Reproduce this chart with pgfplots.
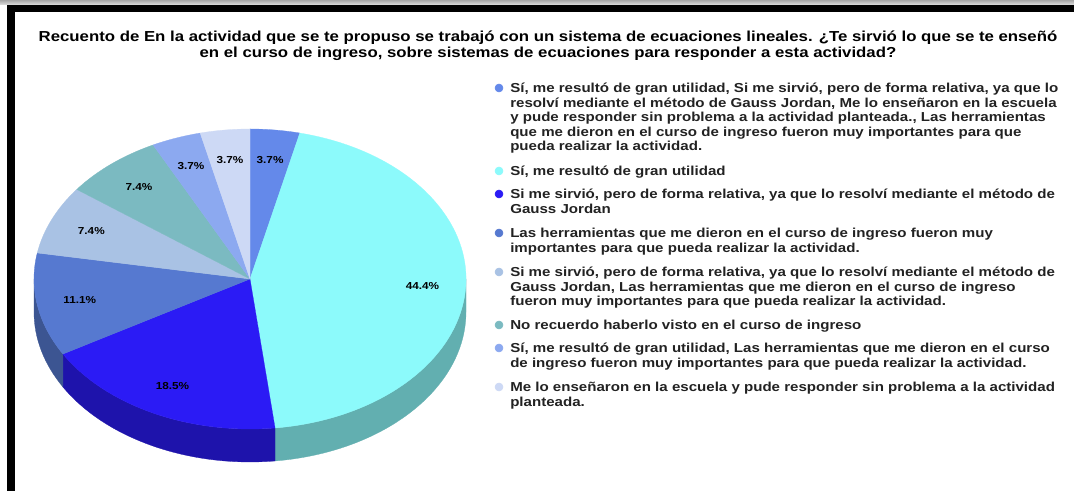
\documentclass[border=0pt]{standalone}
\usepackage{pgfplots}
\pgfplotsset{compat=1.18}
\usepackage{pgfplotstable}
\usepackage{graphicx}
\usepackage{fontspec}
\setmainfont{Liberation Sans}

\definecolor{c0}{HTML}{6489EA}
\definecolor{c1}{HTML}{8CFAFB}
\definecolor{c2}{HTML}{2B1BF5}
\definecolor{c3}{HTML}{5679D0}
\definecolor{c4}{HTML}{A9C2E4}
\definecolor{c5}{HTML}{7BBAC1}
\definecolor{c6}{HTML}{8CA9F0}
\definecolor{c7}{HTML}{CDD9F5}
\definecolor{legtxt}{HTML}{222222}

% responses (count of answers), in the order of the legend
\pgfplotstableread{
resp value
1 1
2 12
3 5
4 3
5 2
6 2
7 1
8 1
}\piedata

% geometry (pixel units of the picture; 1 px = 0.75 pt)
\def\cx{250}\def\cy{279}\def\rx{216}\def\ry{150}
\def\rxpt{162pt}\def\rypt{112.5pt}\def\deppt{24.75pt}

\pgfplotstablegetrowsof{\piedata}%
\pgfmathtruncatemacro\nrows{\pgfplotsretval-1}%
\xdef\total{0}%
\foreach \i in {0,...,\nrows}{%
  \pgfplotstablegetelem{\i}{value}\of\piedata
  \pgfmathsetmacro\tmp{\total+\pgfplotsretval}%
  \xdef\total{\tmp}%
}%
\xdef\cum{0}%
\gdef\pieSides{}\gdef\pieTops{}\gdef\pieLabels{}%
\foreach \i in {0,...,\nrows}{%
  \pgfplotstablegetelem{\i}{value}\of\piedata
  \let\val\pgfplotsretval
  \pgfmathsetmacro\angA{\cum*360/\total}%
  \pgfmathsetmacro\angB{(\cum+\val)*360/\total}%
  \pgfmathsetmacro\xa{\cx+\rx*sin(\angA)}%
  \pgfmathsetmacro\ya{\cy-\ry*cos(\angA)}%
  \pgfmathsetmacro\sa{90-\angA}%
  \pgfmathsetmacro\sb{90-\angB}%
  \xdef\pieTops{\unexpanded\expandafter{\pieTops}\noexpand\path[fill=c\i,draw=c\i,line width=0.2pt] (axis cs:\cx,\cy) -- (axis cs:\xa,\ya) arc[start angle=\sa, end angle=\sb, x radius=\rxpt, y radius=\rypt] -- cycle;}%
  \pgfmathtruncatemacro\vis{(\angA<270)&&(\angB>90)}%
  \ifnum\vis=1
    \pgfmathsetmacro\angP{max(\angA,90)}%
    \pgfmathsetmacro\angQ{min(\angB,270)}%
    \pgfmathsetmacro\xp{\cx+\rx*sin(\angP)}%
    \pgfmathsetmacro\yp{\cy-\ry*cos(\angP)}%
    \pgfmathsetmacro\sP{90-\angP}%
    \pgfmathsetmacro\sQ{90-\angQ}%
    \xdef\pieSides{\unexpanded\expandafter{\pieSides}\noexpand\path[fill=c\i!70!black,draw=c\i!70!black,line width=0.2pt] (axis cs:\xp,\yp) arc[start angle=\sP, end angle=\sQ, x radius=\rxpt, y radius=\rypt] -- ++(0pt,-\deppt) arc[start angle=\sQ, end angle=\sP, x radius=\rxpt, y radius=\rypt] -- cycle;}%
  \fi
  \pgfmathsetmacro\angM{(\angA+\angB)/2}%
  \pgfmathsetmacro\lx{\cx+0.8*\rx*sin(\angM)}%
  \pgfmathsetmacro\ly{\cy-0.8*\ry*cos(\angM)}%
  \pgfmathtruncatemacro\pint{round(\val*1000/\total)}%
  \pgfmathtruncatemacro\ip{\pint/10}%
  \pgfmathtruncatemacro\fp{\pint-10*\ip}%
  \xdef\pieLabels{\unexpanded\expandafter{\pieLabels}\noexpand\node[pielbl] at (axis cs:\lx,\ly) {\noexpand\sx{\ip.\fp\noexpand\%}};}%
  \pgfmathsetmacro\tmp{\cum+\val}%
  \xdef\cum{\tmp}%
}%

\newcommand\sx[1]{\scalebox{1.16}[1]{#1}}
\tikzset{
  pielbl/.style={font=\bfseries\fontsize{7.6pt}{9pt}\selectfont, text=black, inner sep=0pt},
  legtext/.style={anchor=base west, inner sep=0pt, text=legtxt, font=\bfseries\fontsize{9.75pt}{10.9pt}\selectfont},
  ttl/.style={anchor=base, inner sep=0pt, text=black, font=\bfseries\fontsize{10.85pt}{12pt}\selectfont},
}

\begin{document}
\begin{tikzpicture}
\begin{axis}[
  scale only axis, width=805.5pt, height=368.25pt,
  xmin=0, xmax=1074, ymin=0, ymax=491, y dir=reverse,
  hide axis, clip=false]
% background and frame
\fill[white] (axis cs:0,0) rectangle (axis cs:1074,491);
\shade[top color=gray!70, bottom color=gray!25] (axis cs:0,0) rectangle (axis cs:1074,5);
\fill[black] (axis cs:7,5) rectangle (axis cs:1074,12);
\fill[black] (axis cs:7,5) rectangle (axis cs:15,491);
% pie
\pieSides
\pieTops
\pieLabels
% title
\node[ttl] at (axis cs:548,42) {\sx{Recuento de En la actividad que se te propuso se trabajó con un sistema de ecuaciones lineales. ¿Te sirvió lo que se te enseñó}};
\node[ttl] at (axis cs:548,58) {\sx{en el curso de ingreso, sobre sistemas de ecuaciones para responder a esta actividad?}};
% legend
\addplot[only marks, mark=*, mark size=3pt, color=c0] coordinates {(499,88)};
\addplot[only marks, mark=*, mark size=3pt, color=c1] coordinates {(499,171)};
\addplot[only marks, mark=*, mark size=3pt, color=c2] coordinates {(499,194)};
\addplot[only marks, mark=*, mark size=3pt, color=c3] coordinates {(499,233)};
\addplot[only marks, mark=*, mark size=3pt, color=c4] coordinates {(499,272)};
\addplot[only marks, mark=*, mark size=3pt, color=c5] coordinates {(499,325)};
\addplot[only marks, mark=*, mark size=3pt, color=c6] coordinates {(499,348)};
\addplot[only marks, mark=*, mark size=3pt, color=c7] coordinates {(499,387)};
\node[legtext] at (axis cs:510,92.5) {\sx{\begin{tabular}[t]{@{}l@{}}Sí, me resultó de gran utilidad, Si me sirvió, pero de forma relativa, ya que lo\\resolví mediante el método de Gauss Jordan, Me lo enseñaron en la escuela\\y pude responder sin problema a la actividad planteada., Las herramientas\\que me dieron en el curso de ingreso fueron muy importantes para que\\pueda realizar la actividad.\end{tabular}}};
\node[legtext] at (axis cs:510,175.5) {\sx{Sí, me resultó de gran utilidad}};
\node[legtext] at (axis cs:510,198.5) {\sx{\begin{tabular}[t]{@{}l@{}}Si me sirvió, pero de forma relativa, ya que lo resolví mediante el método de\\Gauss Jordan\end{tabular}}};
\node[legtext] at (axis cs:510,237.5) {\sx{\begin{tabular}[t]{@{}l@{}}Las herramientas que me dieron en el curso de ingreso fueron muy\\importantes para que pueda realizar la actividad.\end{tabular}}};
\node[legtext] at (axis cs:510,276.5) {\sx{\begin{tabular}[t]{@{}l@{}}Si me sirvió, pero de forma relativa, ya que lo resolví mediante el método de\\Gauss Jordan, Las herramientas que me dieron en el curso de ingreso\\fueron muy importantes para que pueda realizar la actividad.\end{tabular}}};
\node[legtext] at (axis cs:510,329.5) {\sx{No recuerdo haberlo visto en el curso de ingreso}};
\node[legtext] at (axis cs:510,352.5) {\sx{\begin{tabular}[t]{@{}l@{}}Sí, me resultó de gran utilidad, Las herramientas que me dieron en el curso\\de ingreso fueron muy importantes para que pueda realizar la actividad.\end{tabular}}};
\node[legtext] at (axis cs:510,391.5) {\sx{\begin{tabular}[t]{@{}l@{}}Me lo enseñaron en la escuela y pude responder sin problema a la actividad\\planteada.\end{tabular}}};
\end{axis}
\end{tikzpicture}
\end{document}
